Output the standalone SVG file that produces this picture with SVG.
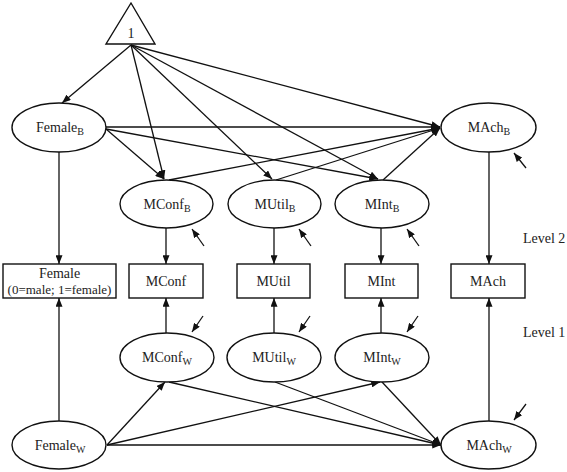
<svg xmlns="http://www.w3.org/2000/svg" width="567" height="472" viewBox="0 0 567 472">
<defs>
<marker id="ah" viewBox="0 0 10 8" refX="10" refY="4" markerWidth="9" markerHeight="7" orient="auto" markerUnits="userSpaceOnUse">
<path d="M0,0 L10,4 L0,8 z" fill="#111"/>
</marker>
<style>
.shape{fill:#fff;stroke:#111;stroke-width:1.4}
.lbl{font-family:"Liberation Serif","Times New Roman",serif;font-size:14px;fill:#222;text-anchor:middle}
.sub{font-size:10px}
.small{font-size:13px}
.side{font-family:"Liberation Serif","Times New Roman",serif;font-size:14px;fill:#222}
#connectors line{stroke:#111;stroke-width:1.3;marker-end:url(#ah)}
</style>
</defs>
<rect width="567" height="472" fill="#fff"/>

<g id="connectors">
<!-- level 2: from constant -->
<line x1="131" y1="45" x2="62" y2="103"/>
<line x1="131" y1="45" x2="164" y2="179"/>
<line x1="131" y1="45" x2="272" y2="179"/>
<line x1="131" y1="45" x2="378" y2="179"/>
<line x1="131" y1="45" x2="440" y2="127"/>
<!-- Female_B -->
<line x1="106" y1="127" x2="440" y2="127"/>
<line x1="106" y1="129" x2="164" y2="179"/>
<line x1="106" y1="129" x2="378" y2="179"/>
<!-- mediators B to MAch_B -->
<line x1="169" y1="180" x2="440" y2="128"/>
<line x1="276" y1="180" x2="440" y2="128"/>
<line x1="383" y1="180" x2="440" y2="128"/>
<!-- level 2 verticals -->
<line x1="59" y1="152" x2="59" y2="264"/>
<line x1="166" y1="228" x2="166" y2="264"/>
<line x1="274" y1="228" x2="274" y2="264"/>
<line x1="381" y1="228" x2="381" y2="264"/>
<line x1="489" y1="152" x2="489" y2="264"/>
<!-- level 1 verticals -->
<line x1="59" y1="421" x2="59" y2="298"/>
<line x1="166" y1="333" x2="166" y2="298"/>
<line x1="274" y1="333" x2="274" y2="298"/>
<line x1="381" y1="333" x2="381" y2="298"/>
<line x1="489" y1="421" x2="489" y2="298"/>
<!-- level 1 diagonals -->
<line x1="107" y1="445" x2="165" y2="382"/>
<line x1="107" y1="445" x2="380" y2="382"/>
<line x1="107" y1="445" x2="441" y2="445"/>
<line x1="169" y1="382" x2="441" y2="445"/>
<line x1="275" y1="382" x2="441" y2="445"/>
<line x1="382" y1="382" x2="441" y2="445"/>
<!-- residual arrows level 2 -->
<line x1="204" y1="246" x2="192" y2="229"/>
<line x1="311" y1="246" x2="299" y2="229"/>
<line x1="419" y1="246" x2="407" y2="229"/>
<line x1="526" y1="168" x2="514" y2="153"/>
<!-- residual arrows level 1 -->
<line x1="203" y1="316" x2="192" y2="332"/>
<line x1="310" y1="316" x2="299" y2="332"/>
<line x1="418" y1="316" x2="407" y2="332"/>
<line x1="526" y1="404" x2="514" y2="420"/>
</g>

<g id="const">
<polygon class="shape" points="131,3 106,44 155,44"/>
<text class="lbl" x="131" y="38">1</text>
</g>

<g id="FemaleB">
<ellipse class="shape" cx="59" cy="127.5" rx="47" ry="24.5"/>
<text class="lbl" x="60" y="132">Female<tspan class="sub" dy="3">B</tspan></text>
</g>
<g id="MAchB">
<ellipse class="shape" cx="488.5" cy="127.5" rx="47.5" ry="24.5"/>
<text class="lbl" x="489" y="132">MAch<tspan class="sub" dy="3">B</tspan></text>
</g>
<g id="MConfB">
<ellipse class="shape" cx="166.5" cy="204" rx="46.5" ry="24"/>
<text class="lbl" x="167" y="208.5">MConf<tspan class="sub" dy="3">B</tspan></text>
</g>
<g id="MUtilB">
<ellipse class="shape" cx="274.5" cy="204" rx="46.5" ry="24"/>
<text class="lbl" x="275" y="208.5">MUtil<tspan class="sub" dy="3">B</tspan></text>
</g>
<g id="MIntB">
<ellipse class="shape" cx="382" cy="204" rx="47" ry="24"/>
<text class="lbl" x="382" y="208.5">MInt<tspan class="sub" dy="3">B</tspan></text>
</g>

<g id="FemaleBox">
<rect class="shape" x="3" y="264" width="113" height="34"/>
<text class="lbl" x="59.5" y="278">Female</text>
<text class="lbl small" x="59.5" y="294">(0=male; 1=female)</text>
</g>
<g id="MConfBox">
<rect class="shape" x="129" y="264" width="74" height="34"/>
<text class="lbl" x="166" y="286">MConf</text>
</g>
<g id="MUtilBox">
<rect class="shape" x="237" y="264" width="73" height="34"/>
<text class="lbl" x="273.5" y="286">MUtil</text>
</g>
<g id="MIntBox">
<rect class="shape" x="345" y="264" width="73" height="34"/>
<text class="lbl" x="381.5" y="286">MInt</text>
</g>
<g id="MAchBox">
<rect class="shape" x="451" y="264" width="74" height="34"/>
<text class="lbl" x="488" y="286">MAch</text>
</g>

<g id="MConfW">
<ellipse class="shape" cx="167" cy="357.5" rx="47" ry="24.5"/>
<text class="lbl" x="167" y="362">MConf<tspan class="sub" dy="3">W</tspan></text>
</g>
<g id="MUtilW">
<ellipse class="shape" cx="274" cy="357.5" rx="47" ry="24.5"/>
<text class="lbl" x="274" y="362">MUtil<tspan class="sub" dy="3">W</tspan></text>
</g>
<g id="MIntW">
<ellipse class="shape" cx="382" cy="357.5" rx="47" ry="24.5"/>
<text class="lbl" x="382" y="362">MInt<tspan class="sub" dy="3">W</tspan></text>
</g>
<g id="FemaleW">
<ellipse class="shape" cx="59" cy="445" rx="47" ry="24"/>
<text class="lbl" x="60" y="449.5">Female<tspan class="sub" dy="3">W</tspan></text>
</g>
<g id="MAchW">
<ellipse class="shape" cx="488.5" cy="445" rx="47.5" ry="24"/>
<text class="lbl" x="489" y="449.5">MAch<tspan class="sub" dy="3">W</tspan></text>
</g>

<g id="levels">
<text class="side" x="523" y="243">Level 2</text>
<text class="side" x="523" y="337">Level 1</text>
</g>
</svg>
